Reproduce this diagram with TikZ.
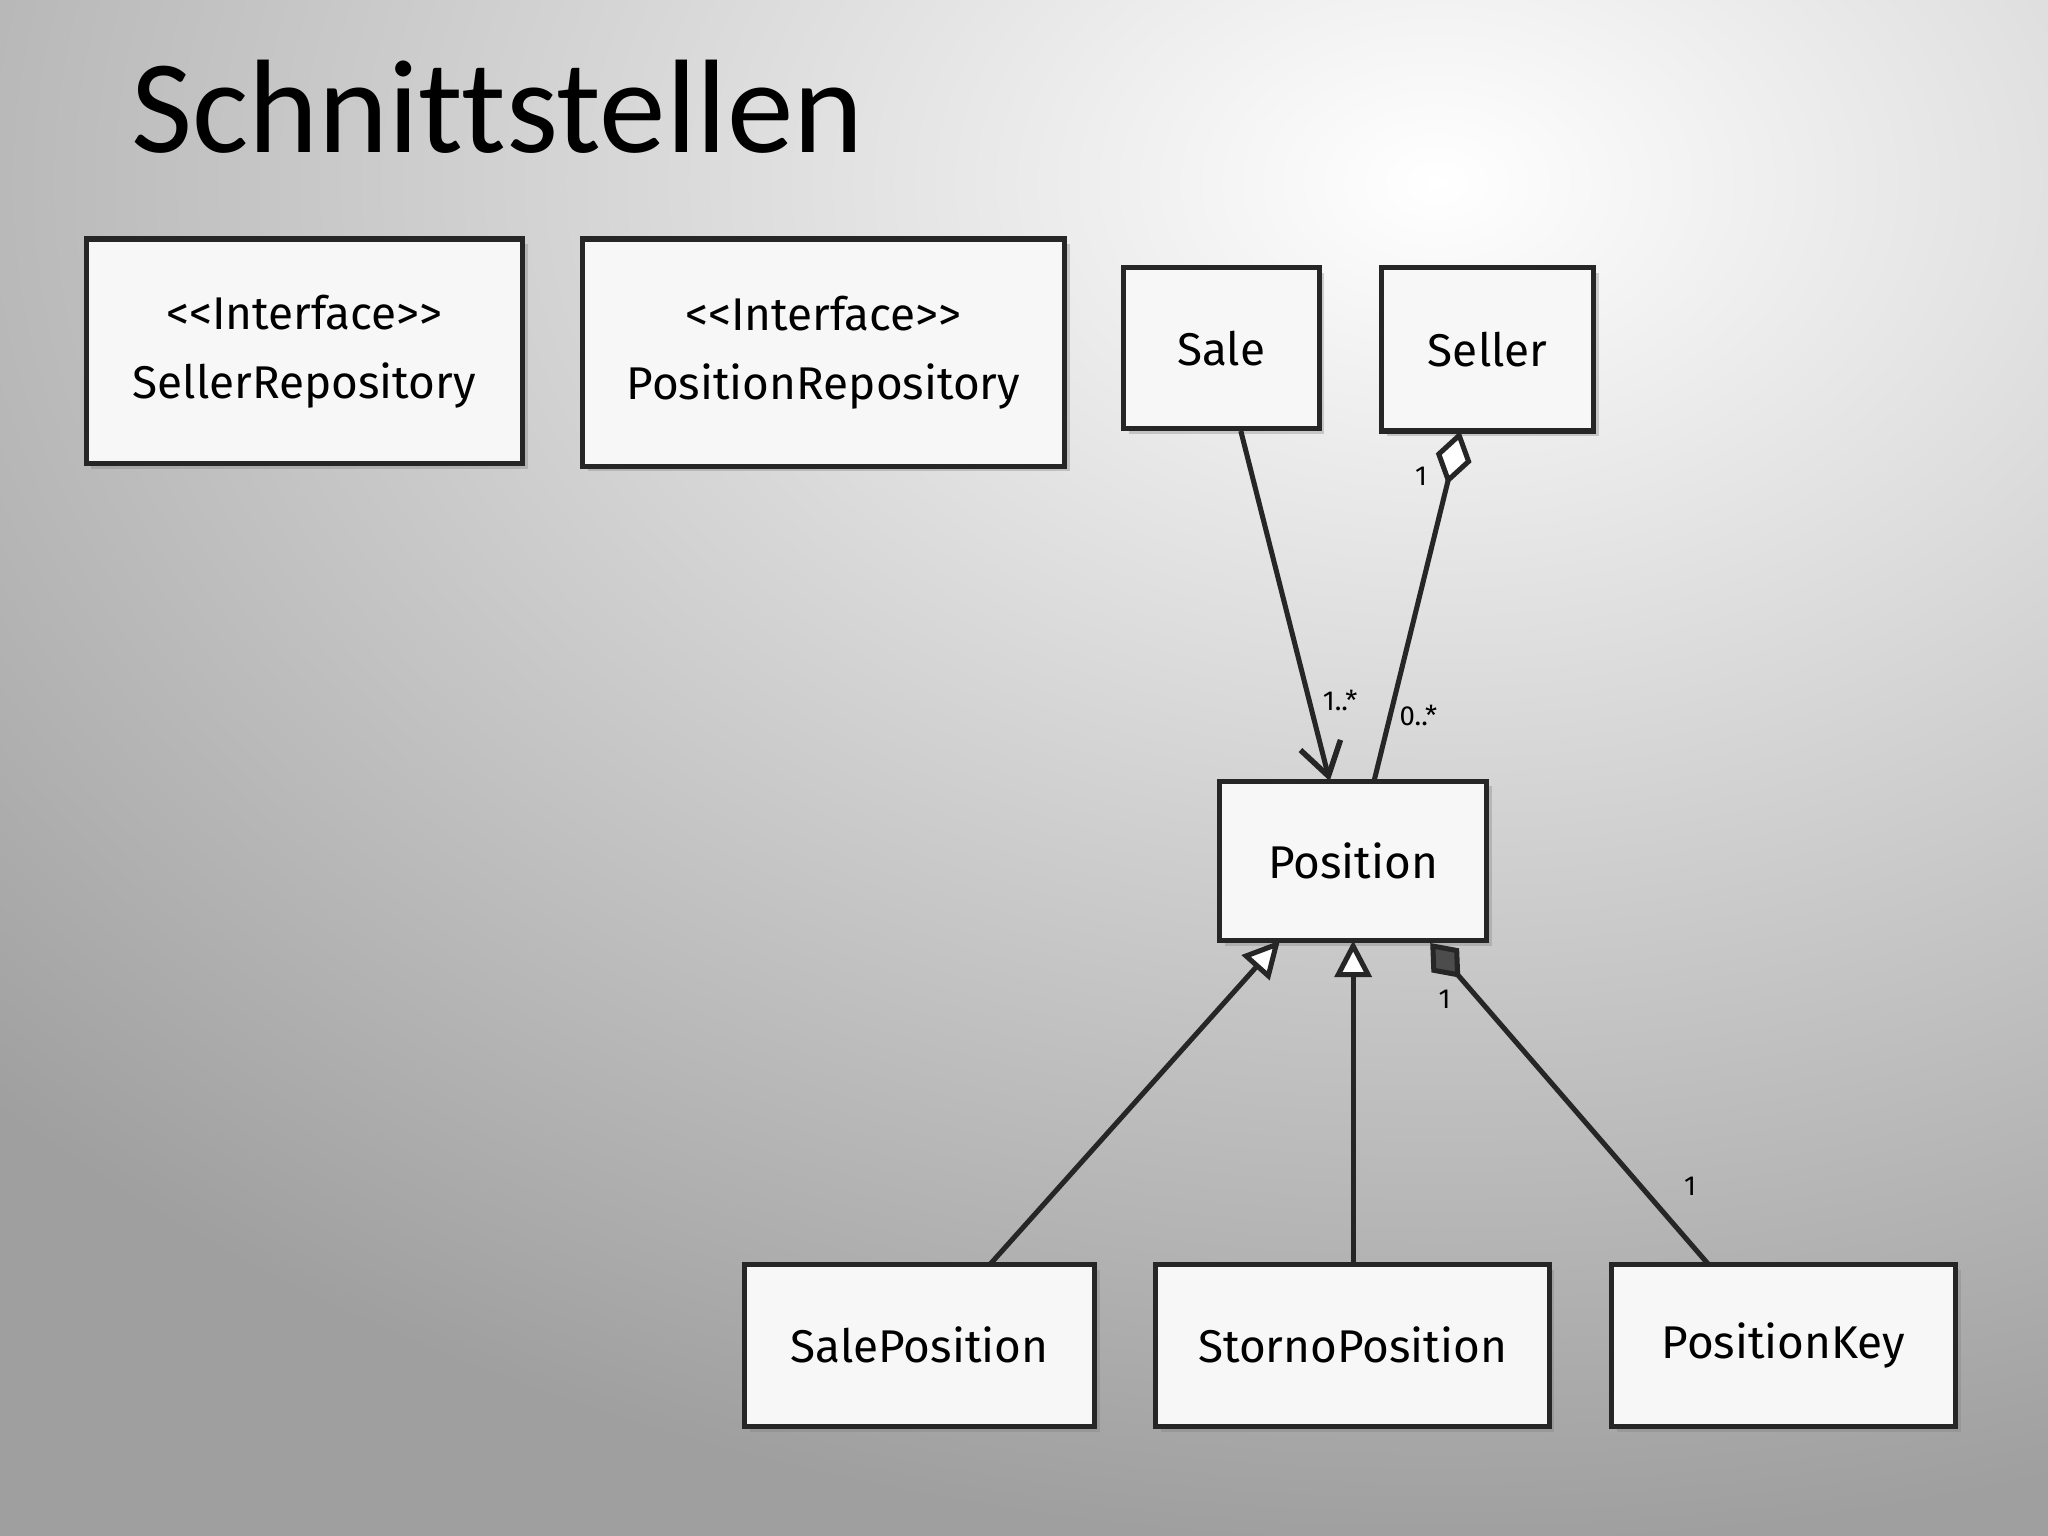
\documentclass[tikz,border=0pt]{standalone}
\usepackage{fontspec}
\setmainfont{Fira Sans}
\newfontfamily\titlefont[Ligatures=NoCommon]{Carlito}
\usetikzlibrary{arrows.meta,shadows}
\newcommand\lla{<\kern0pt<}
\newcommand\rra{>\kern0pt>}
\begin{document}
\begin{tikzpicture}[x=1cm,y=-1cm,
  box/.style={draw=black!85,line width=1.1pt,fill=gray!6,align=center,font=\fontsize{10}{15}\selectfont,inner sep=0pt,drop shadow={shadow xshift=0.04cm,shadow yshift=-0.04cm,opacity=0.35}},
  lbl/.style={font=\fontsize{6}{7}\selectfont},
  ln/.style={line width=1.1pt,black!85}]
\useasboundingbox (0,0) rectangle (15.68,11.76);
\shade[inner color=white,outer color=gray!75] (-4,-9) rectangle (26,11.8);
\node[anchor=west,font=\titlefont\fontsize{29}{34}\selectfont] (title) at (0.88,0.82) {Schnittstellen};
\node[box,minimum width=3.34cm,minimum height=1.72cm] (sr) at (2.33,2.69) {\lla Interface\rra\\SellerRepository};
\node[box,minimum width=3.69cm,minimum height=1.74cm] (pr) at (6.305,2.70) {\lla Interface\rra\\PositionRepository};
\node[box,minimum width=1.50cm,minimum height=1.23cm] (sale) at (9.35,2.665) {Sale};
\node[box,minimum width=1.62cm,minimum height=1.25cm] (seller) at (11.39,2.675) {Seller};
\node[box,minimum width=2.04cm,minimum height=1.22cm] (pos) at (10.36,6.59) {Position};
\node[box,minimum width=2.68cm,minimum height=1.24cm] (sp) at (7.04,10.30) {SalePosition};
\node[box,minimum width=3.01cm,minimum height=1.24cm] (stp) at (10.355,10.30) {StornoPosition};
\node[box,minimum width=2.63cm,minimum height=1.24cm] (pk) at (13.655,10.30) {PositionKey};
\coordinate (a1) at (9.50,3.30); \coordinate (a2) at (10.18,5.98);
\coordinate (b1) at (11.18,3.30); \coordinate (b2) at (10.52,5.98);
\coordinate (c1) at (7.58,9.68); \coordinate (c2) at (9.80,7.20);
\coordinate (d1) at (10.36,9.68); \coordinate (d2) at (10.36,7.20);
\coordinate (e1) at (13.08,9.68); \coordinate (e2) at (10.95,7.22);
\draw[ln,-{Straight Barb[length=7pt,width=9pt,line width=1.2pt]}] (a1) -- (a2);
\draw[ln,{Diamond[open,fill=white,length=12pt,width=8pt]}-] (b1) -- (b2);
\draw[ln,-{Triangle[open,fill=white,length=8pt,width=8pt]}] (c1) -- (c2);
\draw[ln,-{Triangle[open,fill=white,length=8pt,width=8pt]}] (d1) -- (d2);
\draw[ln,-{Diamond[fill=black!70,length=10pt,width=8pt]}] (e1) -- (e2);
\node[lbl] (l1) at (10.26,5.36) {1..*};
\node[lbl] (l2) at (10.86,5.48) {0..*};
\node[lbl] (l3) at (10.88,3.65) {1};
\node[lbl] (l4) at (11.06,7.65) {1};
\node[lbl] (l5) at (12.94,9.08) {1};
\end{tikzpicture}
\end{document}
